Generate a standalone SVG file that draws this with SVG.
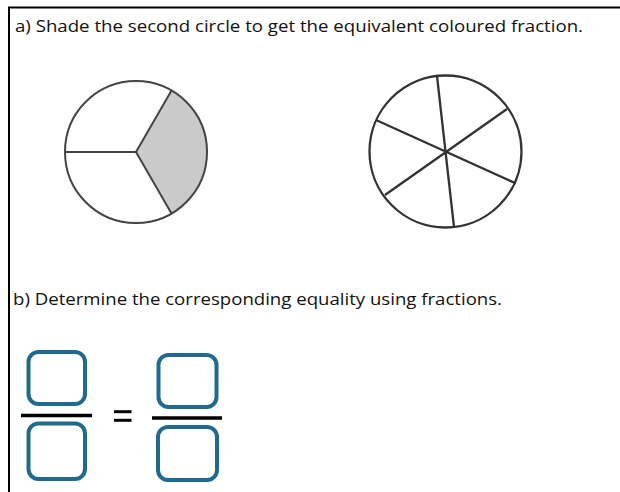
<svg xmlns="http://www.w3.org/2000/svg" width="620" height="492" viewBox="0 0 620 492">
<style>
.t{font-family:"Open Sans","Liberation Sans",sans-serif;font-size:16.5px;fill:#111}
.c{fill:none;stroke:#444;stroke-width:2}
.c2{fill:none;stroke:#333;stroke-width:2.3}
.box{fill:none;stroke:#1f6a8e;stroke-width:4}
.bar{stroke:#000;stroke-width:3.5}
</style>
<rect width="620" height="492" fill="#fff"/>
<g id="frame">
<path d="M9 492 V7.5 H620" fill="none" stroke="#000" stroke-width="2"/>
</g>
<g id="question-a">
<text class="t" x="15" y="32" textLength="568" lengthAdjust="spacingAndGlyphs">a) Shade the second circle to get the equivalent coloured fraction.</text>
</g>
<g id="circle-thirds">
<path d="M136 152 L171.5 90.5 A71 71 0 0 1 171.5 213.5 Z" fill="#cacaca"/>
<circle class="c" cx="136" cy="152" r="71"/>
<path class="c" d="M65 152 H136 L171.5 90.5 M136 152 L171.5 213.5"/>
</g>
<g id="circle-sixths">
<circle class="c2" cx="445.5" cy="151.5" r="76"/>
<path class="c2" d="M437 76 L454 227 M376 120 L516 183.5 M507 109 L385 195"/>
</g>
<g id="question-b">
<text class="t" x="13" y="305" textLength="489" lengthAdjust="spacingAndGlyphs">b) Determine the corresponding equality using fractions.</text>
</g>
<g id="fraction-left">
<rect class="box" x="28.5" y="352" width="56.5" height="52" rx="10"/>
<line class="bar" x1="21" y1="415.5" x2="92" y2="415.5"/>
<rect class="box" x="28.5" y="423.5" width="56.5" height="55.5" rx="10"/>
</g>
<g id="equals">
<line x1="114" y1="411.7" x2="131.5" y2="411.7" stroke="#000" stroke-width="3"/>
<line x1="114" y1="420.3" x2="131.5" y2="420.3" stroke="#000" stroke-width="3"/>
</g>
<g id="fraction-right">
<rect class="box" x="158.5" y="355" width="58" height="52" rx="10"/>
<line class="bar" x1="152" y1="418" x2="222" y2="418"/>
<rect class="box" x="158" y="427" width="59" height="53" rx="10"/>
</g>
</svg>
